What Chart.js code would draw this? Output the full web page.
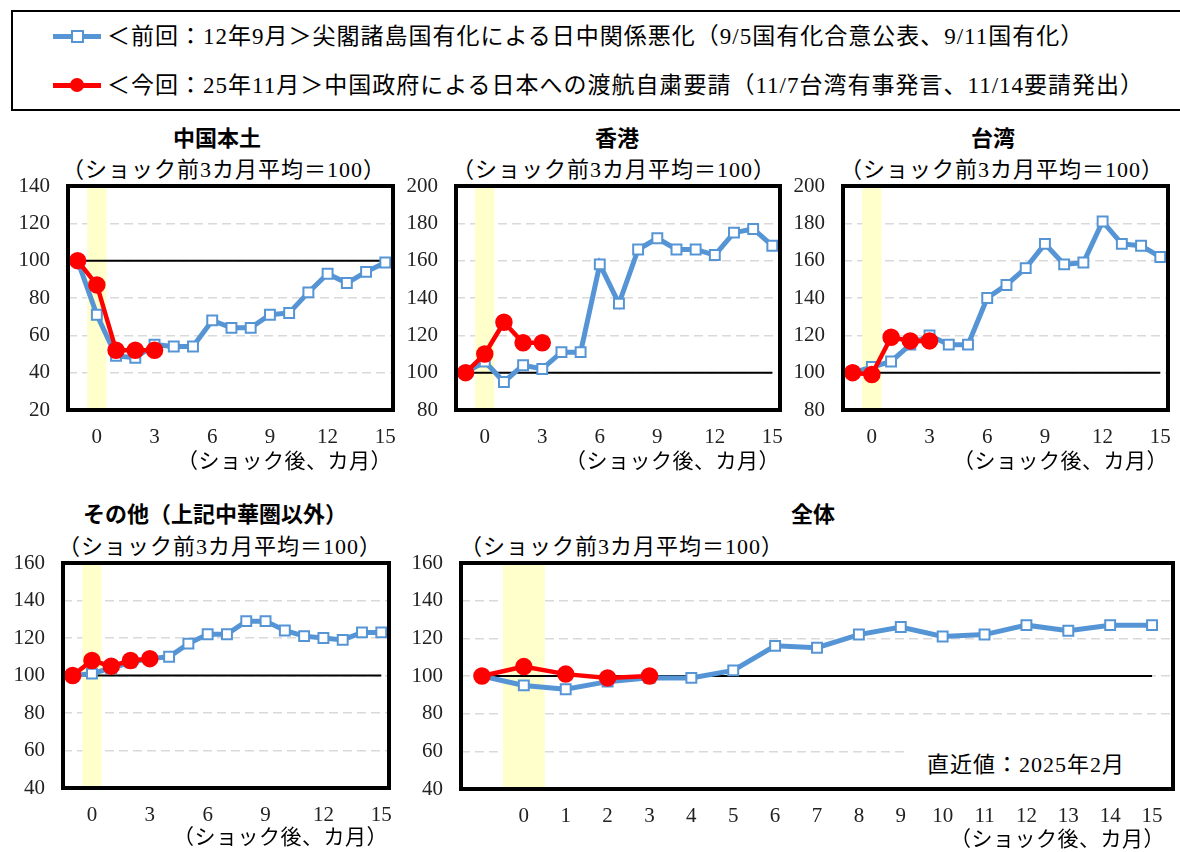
<!DOCTYPE html>
<html lang="ja">
<head>
<meta charset="utf-8">
<script src="https://cdn.jsdelivr.net/npm/chart.js@4.4.1/dist/chart.umd.min.js"></script>
<style>
  body { margin: 0; background: #fff; }
  #page { position: relative; width: 1180px; height: 852px; overflow: hidden; font-family: 'Liberation Serif', 'Noto Sans CJK JP', serif; color: #000; }
  #page canvas { position: absolute; }
  .txt { position: absolute; white-space: nowrap; line-height: 1; }
  .ttl { font-family: 'Noto Sans CJK JP', sans-serif; font-weight: 700; font-size: 22px; transform: translateX(-50%); }
  .sub { font-size: 22px; letter-spacing: 1px; }
  .xt { font-size: 21px; letter-spacing: 0.5px; transform: translateX(-100%); }
  #legend { position: absolute; left: 11px; top: 10px; width: 1180px; height: 97px; border: 2px solid #000; }
  .lg-line { position: absolute; left: 40px; width: 48px; height: 5px; }
  .lg-text { position: absolute; left: 94px; font-size: 23px; letter-spacing: 1px; line-height: 1; white-space: nowrap; }
  #note { position: absolute; left: 908px; top: 745px; width: 262px; height: 40px; background: #fff; }
</style>
</head>
<body>
<div id="page">
  <div id="legend">
    <div class="lg-line" style="top:22px;background:#5595D5"></div>
    <div style="position:absolute;left:58px;top:18px;width:9px;height:9px;background:#fff;border:2px solid #5595D5"></div>
    <div class="lg-text" style="top:13px">＜前回：12年9月＞尖閣諸島国有化による日中関係悪化（9/5国有化合意公表、9/11国有化）</div>
    <div class="lg-line" style="top:71px;background:#FF0000"></div>
    <div style="position:absolute;left:57px;top:66px;width:14px;height:14px;border-radius:50%;background:#FF0000"></div>
    <div class="lg-text" style="top:62px">＜今回：25年11月＞中国政府による日本への渡航自粛要請（11/7台湾有事発言、11/14要請発出）</div>
  </div>

  <div class="txt ttl" style="left:217px;top:125px">中国本土</div>
  <div class="txt ttl" style="left:617px;top:125px">香港</div>
  <div class="txt ttl" style="left:993px;top:125px">台湾</div>
  <div class="txt ttl" style="left:215px;top:501px">その他（上記中華圏以外）</div>
  <div class="txt ttl" style="left:813px;top:501px">全体</div>

  <div class="txt sub" style="left:62px;top:159px">（ショック前3カ月平均＝100）</div>
  <div class="txt sub" style="left:452px;top:159px">（ショック前3カ月平均＝100）</div>
  <div class="txt sub" style="left:840px;top:159px">（ショック前3カ月平均＝100）</div>
  <div class="txt sub" style="left:58px;top:536px">（ショック前3カ月平均＝100）</div>
  <div class="txt sub" style="left:460px;top:536px">（ショック前3カ月平均＝100）</div>

  <canvas id="c1"></canvas>
  <canvas id="c2"></canvas>
  <canvas id="c3"></canvas>
  <canvas id="c4"></canvas>
  <canvas id="c5"></canvas>

  <div id="note"><div class="txt" style="left:19px;top:9px;font-size:22px;letter-spacing:1px">直近値：2025年2月</div></div>

  <div class="txt xt" style="left:392px;top:451px">（ショック後、カ月）</div>
  <div class="txt xt" style="left:780px;top:451px">（ショック後、カ月）</div>
  <div class="txt xt" style="left:1168px;top:451px">（ショック後、カ月）</div>
  <div class="txt xt" style="left:388px;top:827px">（ショック後、カ月）</div>
  <div class="txt xt" style="left:1165px;top:829px">（ショック後、カ月）</div>
</div>

<script>
// months after the shock (-1 = month before)
const months = [-1, 0, 1, 2, 3, 4, 5, 6, 7, 8, 9, 10, 11, 12, 13, 14, 15];
const monthsNow = [-1, 0, 1, 2, 3];

const xTicksSmall = [0, 3, 6, 9, 12, 15];
const xTicksTotal = [0, 1, 2, 3, 4, 5, 6, 7, 8, 9, 10, 11, 12, 13, 14, 15];
const shockBand = [-0.5, 0.5];
const baseLine = [100, 100];

// <前回> 2012/9
const prevMainland = [100, 71, 49, 48, 55, 54, 54, 68, 64, 64, 71, 72, 83, 93, 88, 94, 99];
const prevHongKong = [100, 106, 95, 104, 102, 111, 111, 158, 137, 166, 172, 166, 166, 163, 175, 177, 168];
const prevTaiwan   = [100, 103, 106, 115, 120, 115, 115, 140, 147, 156, 169, 158, 159, 181, 169, 168, 162];
const prevOther    = [100, 101, 104, 107, 109, 110, 117, 122, 122, 129, 129, 124, 121, 120, 119, 123, 123];
const prevTotal    = [100, 95, 93, 97, 99, 99, 103, 116, 115, 122, 126, 121, 122, 127, 124, 127, 127];

// <今回> 2025/11
const nowMainland = [100, 87, 52, 52, 52];
const nowHongKong = [100, 110, 127, 116, 116];
const nowTaiwan   = [100, 99, 119, 117, 117];
const nowOther    = [100, 108, 105, 108, 109];
const nowTotal    = [100, 105, 101, 99, 100];

const BLUE = '#5595D5';
const RED = '#FF0000';
const tickFont = { family: "'Liberation Serif', 'Noto Sans CJK JP', serif", size: 21 };

// paddings big enough that chart.js does not shrink the plot for label overflow
const PAD_T = 34, PAD_R = 22, Y_W = 62, X_H = 50;

const bandPlugin = {
  id: 'shockBand',
  beforeDatasetsDraw: (chart) => {
    const { ctx, chartArea: a, scales: { x } } = chart;
    const x0 = x.getPixelForValue(shockBand[0]);
    const x1 = x.getPixelForValue(shockBand[1]);
    ctx.save();
    ctx.fillStyle = '#FFFFCC';
    ctx.fillRect(x0, a.top, x1 - x0, a.bottom - a.top);
    ctx.restore();
  }
};

const framePlugin = {
  id: 'frame',
  afterDatasetsDraw: (chart) => {
    const { ctx, chartArea: a } = chart;
    ctx.save();
    ctx.lineWidth = 4;
    ctx.strokeStyle = '#000';
    ctx.strokeRect(a.left, a.top, a.right - a.left, a.bottom - a.top);
    ctx.restore();
  }
};

function toXY(xs, ys) {
  return ys.map((v, i) => ({ x: xs[i], y: v }));
}

function makePanel(id, frame, yMin, yMax, xMin, xMax, xTicks, prev, now) {
  const cv = document.getElementById(id);
  const left = frame.l - Y_W, top = frame.t - PAD_T;
  cv.width = frame.r + PAD_R - left;
  cv.height = frame.b + X_H - top;
  cv.style.left = left + 'px';
  cv.style.top = top + 'px';

  new Chart(cv, {
    type: 'line',
    data: {
      datasets: [
        {
          label: '今回', data: toXY(monthsNow, now), order: 0,
          borderColor: RED, backgroundColor: RED, borderWidth: 4.5,
          pointStyle: 'circle', pointRadius: 6.5, pointBackgroundColor: RED, pointBorderColor: RED
        },
        {
          label: '前回', data: toXY(months, prev), order: 1,
          borderColor: BLUE, backgroundColor: '#fff', borderWidth: 5,
          pointStyle: 'rect', pointRadius: 7, pointBackgroundColor: '#fff',
          pointBorderColor: BLUE, pointBorderWidth: 2
        },
        {
          label: 'base', data: toXY([months[0], months[months.length - 1]], baseLine), order: 2,
          borderColor: '#000', borderWidth: 2, pointRadius: 0
        }
      ]
    },
    options: {
      responsive: false,
      animation: false,
      devicePixelRatio: 1,
      layout: { padding: { top: PAD_T, right: PAD_R, left: 0, bottom: 0 } },
      plugins: { legend: { display: false }, tooltip: { enabled: false } },
      scales: {
        x: {
          type: 'linear', min: xMin, max: xMax,
          grid: { display: false, drawTicks: false }, border: { display: false },
          afterBuildTicks: (axis) => { axis.ticks = xTicks.map(v => ({ value: v })); },
          afterFit: (s) => { s.height = X_H; },
          ticks: { padding: 15, font: tickFont, color: '#222', maxRotation: 0, autoSkip: false, callback: (v) => String(v) }
        },
        y: {
          min: yMin, max: yMax,
          afterFit: (s) => { s.width = Y_W; },
          ticks: { stepSize: 20, padding: 18, font: tickFont, color: '#222' },
          grid: { color: '#D9D9D9', lineWidth: 1.5, drawTicks: false },
          border: { display: false, dash: [9, 5] }
        }
      }
    },
    plugins: [bandPlugin, framePlugin]
  });
}

makePanel('c1', { l: 68, t: 186, r: 393, b: 410 }, 20, 140, -1.5, 15.4, xTicksSmall, prevMainland, nowMainland);
makePanel('c2', { l: 456, t: 186, r: 780, b: 410 }, 80, 200, -1.5, 15.4, xTicksSmall, prevHongKong, nowHongKong);
makePanel('c3', { l: 843, t: 186, r: 1168, b: 410 }, 80, 200, -1.5, 15.4, xTicksSmall, prevTaiwan, nowTaiwan);
makePanel('c4', { l: 63, t: 563, r: 389, b: 788 }, 40, 160, -1.5, 15.4, xTicksSmall, prevOther, nowOther);
makePanel('c5', { l: 461, t: 563, r: 1173, b: 789 }, 40, 160, -1.5, 15.5, xTicksTotal, prevTotal, nowTotal);
</script>
</body>
</html>
